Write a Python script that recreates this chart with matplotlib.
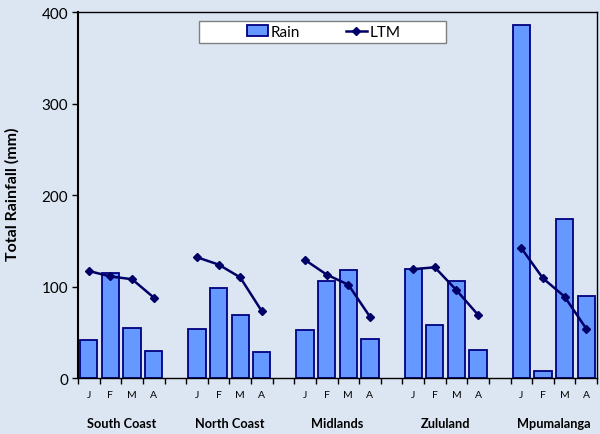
import matplotlib
matplotlib.use("Agg")
import matplotlib.pyplot as plt
import matplotlib.transforms as mtransforms
from matplotlib.patches import Rectangle

plt.rcParams['font.family'] = ['Lato', 'DejaVu Sans']

# ----------------------------
# DATA
# ----------------------------
regions = ['South Coast', 'North Coast', 'Midlands', 'Zululand', 'Mpumalanga']
months = ['J', 'F', 'M', 'A']

rain = [
    [42, 115, 55, 29],
    [54, 98, 69, 28],
    [52, 106, 118, 43],
    [119, 58, 106, 31],
    [386, 8, 174, 90],
]
ltm = [
    [117, 111, 108, 88],
    [132, 124, 110, 73],
    [129, 113, 102, 67],
    [119, 121, 96, 69],
    [142, 109, 89, 54],
]

bg = '#dce6f2'
bar_face = '#6699ff'
bar_edge = '#000080'
line_col = '#000066'

fig = plt.figure(figsize=(6, 4.35), dpi=100, facecolor=bg)
ax = fig.add_axes([0.13, 0.1287, 0.865, 0.8413], facecolor=bg)

# each region takes 4 slots plus one empty slot between groups
slot = 5
bar_h, line_h = None, None
for i, region in enumerate(regions):
    xs = [i * slot + k for k in range(len(months))]
    b = ax.bar(xs, rain[i], width=0.8, color=bar_face, edgecolor=bar_edge,
               linewidth=1.3, zorder=2)
    l, = ax.plot(xs, ltm[i], color=line_col, linewidth=1.8, marker='D',
                 markersize=4, zorder=3)
    if i == 0:
        bar_h, line_h = b, l

n_slots = slot * len(regions) - 1
ax.set_xlim(-0.5, n_slots - 0.5)
ax.set_ylim(0, 400)
ax.set_yticks([0, 100, 200, 300, 400])
ax.tick_params(axis='y', labelsize=11, direction='out', length=4,
               width=1, pad=3)
ax.set_xticks([k - 0.5 for k in range(n_slots + 1)])
ax.set_xticklabels([])
ax.tick_params(axis='x', direction='out', length=4, width=1)

for side in ['top', 'right', 'bottom']:
    ax.spines[side].set_linewidth(1)
ax.spines['left'].set_linewidth(1.5)

ax.set_ylabel('Total Rainfall (mm)', fontsize=11.5, fontweight='bold')
ax.yaxis.set_label_coords(-0.112, 0.505)

# month and region labels below the axis
trans = mtransforms.blended_transform_factory(ax.transData, ax.transAxes)
for i, region in enumerate(regions):
    for k, m in enumerate(months):
        ax.text(i * slot + k, -0.046, m, transform=trans, ha='center',
                va='center', fontsize=7.5)
    ax.text(i * slot + 1.5, -0.123, region, transform=trans, ha='center',
            va='center', fontsize=9.2, fontweight='bold')

# legend: white box with entries centred inside (Excel style)
ax.add_patch(Rectangle((0.233, 0.9155), 0.476, 0.0595, transform=ax.transAxes,
                       facecolor='white', edgecolor='#808080', linewidth=1,
                       zorder=4))
leg = ax.legend([bar_h, line_h], ['Rain', 'LTM'], loc='center',
                bbox_to_anchor=(0.473, 0.9455), ncol=2, frameon=False,
                fontsize=11, handlelength=1.4, handletextpad=0.15,
                borderpad=0.1, columnspacing=3.0)
leg.set_zorder(5)

fig.savefig('out.png', dpi=100, facecolor=bg)
